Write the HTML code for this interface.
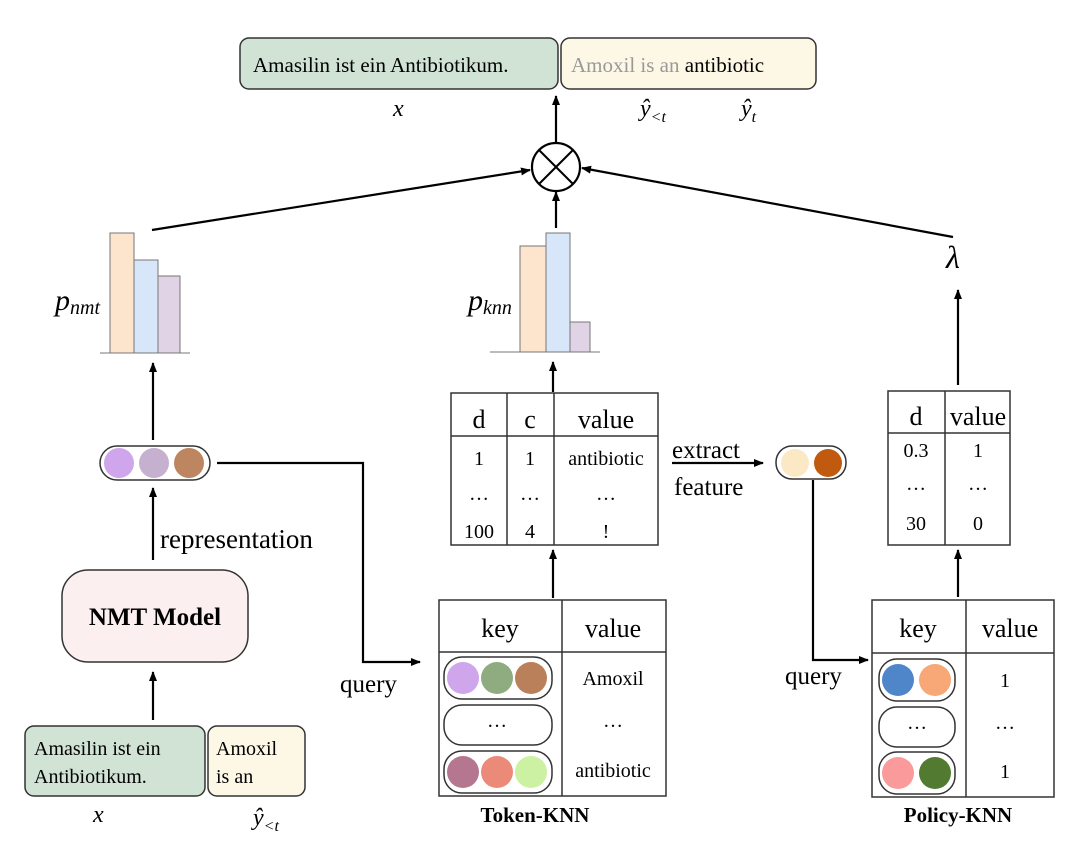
<!DOCTYPE html>
<html><head><meta charset="utf-8"><style>
html,body{margin:0;padding:0;background:#fff;}
svg{display:block;}
text{font-family:"Liberation Serif",serif;fill:#000;}
</style></head><body>
<svg width="1080" height="855" viewBox="0 0 1080 855" xmlns="http://www.w3.org/2000/svg">
<defs>
<marker id="a" markerWidth="10" markerHeight="10" refX="9" refY="5" orient="auto" markerUnits="userSpaceOnUse">
<path d="M0,1 L10,5 L0,9 z" fill="#000"/></marker>
</defs>
<g stroke="#000" stroke-width="2.2" fill="none">
<line x1="556" y1="142" x2="556" y2="96" marker-end="url(#a)"/>
<line x1="556" y1="228" x2="556" y2="192" marker-end="url(#a)"/>
<line x1="152" y1="230" x2="530" y2="170" marker-end="url(#a)"/>
<line x1="953" y1="237" x2="582" y2="168" marker-end="url(#a)"/>
<line x1="958" y1="385" x2="958" y2="290" marker-end="url(#a)"/>
<line x1="153" y1="440" x2="153" y2="363" marker-end="url(#a)"/>
<line x1="153" y1="560" x2="153" y2="488" marker-end="url(#a)"/>
<line x1="153" y1="720" x2="153" y2="672" marker-end="url(#a)"/>
<polyline points="217,463 363,463 363,662 420,662" marker-end="url(#a)"/>
<line x1="553" y1="392" x2="553" y2="362" marker-end="url(#a)"/>
<line x1="553" y1="598" x2="553" y2="550" marker-end="url(#a)"/>
<line x1="672" y1="463" x2="763" y2="463" marker-end="url(#a)"/>
<polyline points="813,480 813,660 868,660" marker-end="url(#a)"/>
<line x1="958" y1="597" x2="958" y2="550" marker-end="url(#a)"/>
</g>
<rect x="240" y="38" width="318" height="51" rx="9" fill="#d0e3d5" stroke="#333" stroke-width="1.5"/>
<rect x="561" y="38" width="255" height="51" rx="9" fill="#fdf8e6" stroke="#333" stroke-width="1.5"/>
<text x="253" y="72" font-size="21">Amasilin ist ein Antibiotikum.</text>
<text x="571" y="72" font-size="21"><tspan fill="#999">Amoxil is an </tspan><tspan>antibiotic</tspan></text>
<text x="393" y="116" font-size="24" font-style="italic">x</text>
<text x="640" y="116" font-size="24" font-style="italic">ŷ<tspan font-size="16" dy="6">&lt;t</tspan></text>
<text x="741" y="116" font-size="24" font-style="italic">ŷ<tspan font-size="16" dy="6">t</tspan></text>
<circle cx="556" cy="167" r="24" fill="#fff" stroke="#000" stroke-width="2.2"/>
<line x1="539" y1="150" x2="573" y2="184" stroke="#000" stroke-width="2"/>
<line x1="573" y1="150" x2="539" y2="184" stroke="#000" stroke-width="2"/>
<g stroke="#777" stroke-width="1">
<rect x="110" y="233" width="24" height="120" fill="#fde5cd"/>
<rect x="134" y="260" width="24" height="93" fill="#d8e6fa"/>
<rect x="158" y="276" width="22" height="77" fill="#e0d3e6"/>
<line x1="100" y1="353" x2="190" y2="353"/>
<rect x="520" y="246" width="26" height="106" fill="#fde5cd"/>
<rect x="546" y="233" width="24" height="119" fill="#d8e6fa"/>
<rect x="570" y="322" width="20" height="30" fill="#e0d3e6"/>
<line x1="490" y1="352" x2="600" y2="352"/>
</g>
<text x="55" y="310" font-size="30" font-style="italic">p<tspan font-size="20" dy="4">nmt</tspan></text>
<text x="468" y="310" font-size="30" font-style="italic">p<tspan font-size="20" dy="4">knn</tspan></text>
<text x="946" y="268" font-size="32" font-style="italic">λ</text>
<rect x="100" y="446" width="110" height="34" rx="17" fill="#fff" stroke="#333" stroke-width="1.5"/>
<circle cx="119" cy="463" r="15" fill="#cfa6ec"/>
<circle cx="154" cy="463" r="15" fill="#c5b0cf"/>
<circle cx="189" cy="463" r="15" fill="#bd8560"/>
<text x="160" y="548" font-size="27">representation</text>
<rect x="62" y="570" width="186" height="92" rx="26" fill="#fcefef" stroke="#333" stroke-width="1.5"/>
<text x="155" y="625" font-size="25" font-weight="bold" text-anchor="middle">NMT Model</text>
<text x="340" y="692" font-size="25">query</text>
<rect x="25" y="726" width="180" height="70" rx="9" fill="#d0e3d5" stroke="#333" stroke-width="1.5"/>
<rect x="208" y="726" width="97" height="70" rx="9" fill="#fdf8e6" stroke="#333" stroke-width="1.5"/>
<text x="34" y="755" font-size="20">Amasilin ist ein</text>
<text x="34" y="783" font-size="20">Antibiotikum.</text>
<text x="216" y="755" font-size="20">Amoxil</text>
<text x="216" y="783" font-size="20">is an</text>
<text x="93" y="822" font-size="24" font-style="italic">x</text>
<text x="253" y="825" font-size="24" font-style="italic">ŷ<tspan font-size="16" dy="6">&lt;t</tspan></text>
<g stroke="#333" stroke-width="1.5" fill="none">
<rect x="451" y="393" width="207" height="152" fill="#fff"/>
<line x1="451" y1="436" x2="658" y2="436"/>
<line x1="507" y1="393" x2="507" y2="545"/>
<line x1="554" y1="393" x2="554" y2="545"/>
</g>
<g font-size="26" text-anchor="middle">
<text x="479" y="428">d</text><text x="530" y="428">c</text><text x="606" y="428">value</text></g>
<g font-size="20" text-anchor="middle">
<text x="479" y="465">1</text><text x="530" y="465">1</text><text x="606" y="465">antibiotic</text>
<text x="479" y="500">…</text><text x="530" y="500">…</text><text x="606" y="500">…</text>
<text x="479" y="538">100</text><text x="530" y="538">4</text><text x="606" y="538">!</text></g>
<text x="672" y="458" font-size="25">extract</text>
<text x="674" y="495" font-size="25">feature</text>
<rect x="776" y="446" width="70" height="33" rx="16" fill="#fff" stroke="#333" stroke-width="1.5"/>
<circle cx="795" cy="463" r="14" fill="#fbe9c6"/>
<circle cx="828" cy="463" r="14" fill="#bf5a0e"/>
<g stroke="#333" stroke-width="1.5" fill="none">
<rect x="888" y="391" width="122" height="154" fill="#fff"/>
<line x1="888" y1="433" x2="1010" y2="433"/>
<line x1="945" y1="391" x2="945" y2="545"/>
</g>
<g font-size="26" text-anchor="middle"><text x="916" y="425">d</text><text x="978" y="425">value</text></g>
<g font-size="20" text-anchor="middle">
<text x="916" y="457">0.3</text><text x="978" y="457">1</text>
<text x="916" y="490">…</text><text x="978" y="490">…</text>
<text x="916" y="530">30</text><text x="978" y="530">0</text></g>
<g stroke="#333" stroke-width="1.5" fill="none">
<rect x="439" y="600" width="227" height="196" fill="#fff"/>
<line x1="439" y1="652" x2="666" y2="652"/>
<line x1="562" y1="600" x2="562" y2="796"/>
</g>
<g font-size="26" text-anchor="middle"><text x="500" y="637">key</text><text x="613" y="637">value</text></g>
<rect x="444" y="657" width="108" height="42" rx="18" fill="#fff" stroke="#333" stroke-width="1.5"/>
<circle cx="463" cy="678" r="16" fill="#cfa6ec"/><circle cx="497" cy="678" r="16" fill="#8fac80"/><circle cx="531" cy="678" r="16" fill="#b98059"/>
<rect x="444" y="705" width="108" height="40" rx="18" fill="#fff" stroke="#333" stroke-width="1.5"/>
<text x="497" y="727" font-size="20" text-anchor="middle">…</text>
<rect x="444" y="751" width="108" height="42" rx="18" fill="#fff" stroke="#333" stroke-width="1.5"/>
<circle cx="463" cy="772" r="16" fill="#b4778f"/><circle cx="497" cy="772" r="16" fill="#ec8a79"/><circle cx="531" cy="772" r="16" fill="#cdf1a2"/>
<g font-size="20" text-anchor="middle"><text x="613" y="685">Amoxil</text><text x="613" y="727">…</text><text x="613" y="777">antibiotic</text></g>
<text x="535" y="822" font-size="21" font-weight="bold" text-anchor="middle">Token-KNN</text>
<text x="785" y="684" font-size="25">query</text>
<g stroke="#333" stroke-width="1.5" fill="none">
<rect x="872" y="600" width="182" height="197" fill="#fff"/>
<line x1="872" y1="653" x2="1054" y2="653"/>
<line x1="966" y1="600" x2="966" y2="797"/>
</g>
<g font-size="26" text-anchor="middle"><text x="918" y="637">key</text><text x="1010" y="637">value</text></g>
<rect x="879" y="659" width="76" height="42" rx="18" fill="#fff" stroke="#333" stroke-width="1.5"/>
<circle cx="898" cy="680" r="16" fill="#4e86c9"/><circle cx="935" cy="680" r="16" fill="#f8a776"/>
<rect x="879" y="707" width="76" height="40" rx="18" fill="#fff" stroke="#333" stroke-width="1.5"/>
<text x="917" y="729" font-size="20" text-anchor="middle">…</text>
<rect x="879" y="752" width="76" height="42" rx="18" fill="#fff" stroke="#333" stroke-width="1.5"/>
<circle cx="898" cy="773" r="16" fill="#fa9a9b"/><circle cx="935" cy="773" r="16" fill="#527a30"/>
<g font-size="20" text-anchor="middle"><text x="1005" y="687">1</text><text x="1005" y="729">…</text><text x="1005" y="778">1</text></g>
<text x="958" y="822" font-size="21" font-weight="bold" text-anchor="middle">Policy-KNN</text>
</svg>
</body></html>
